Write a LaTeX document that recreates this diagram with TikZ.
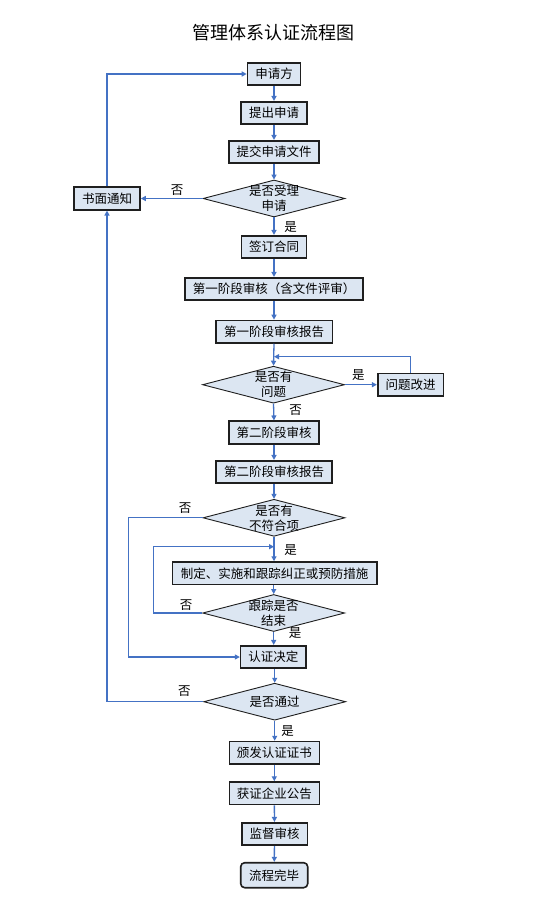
\documentclass[tikz,border=0pt]{standalone}
\usepackage{fontspec}
\setmainfont{Noto Sans CJK SC}
\usetikzlibrary{arrows.meta,shapes.geometric}
\definecolor{boxfill}{HTML}{DCE6F2}
\definecolor{conncol}{HTML}{4472C4}
\definecolor{boxline}{HTML}{1F1F1F}
\begin{document}
\begin{tikzpicture}[x=1pt,y=-1pt,
 stepbox/.style={draw=boxline,line width=1.6pt,fill=boxfill,inner sep=0pt,minimum height=22.5pt,font=\fontsize{12.5}{14}\selectfont},
 endbox/.style={stepbox,rounded corners=4pt},
 dia/.style={diamond,draw=boxline,line width=0.9pt,fill=boxfill,inner sep=0pt,minimum width=142pt,minimum height=37pt},
 dtext/.style={align=center,font=\fontsize{12.5}{15}\selectfont,inner sep=0pt},
 conn/.style={draw=conncol,line width=1.3pt,-{Triangle[length=5pt,width=5pt]}},
 lbl/.style={font=\fontsize{12.5}{14}\selectfont,inner sep=0pt}
]
\fill[white] (0,0) rectangle (550,915);
\useasboundingbox (0,0) rectangle (550,915);

\node[font=\fontsize{18}{20}\selectfont,inner sep=0pt] (title) at (273,33) {管理体系认证流程图};

\node[stepbox,minimum width=53pt] (sqf) at (274,74) {申请方};
\node[stepbox,minimum width=65.6pt] (tcsq) at (274,113) {提出申请};
\node[stepbox,minimum width=90pt] (tjwj) at (274,152) {提交申请文件};
\node[dia] (d1) at (274,198.5) {};
\node[dtext] (d1t) at (d1.center) {是否受理\\申请};
\node[stepbox,minimum width=66pt] (smtz) at (107,198.5) {书面通知};
\node[stepbox,minimum width=65pt] (qdht) at (274,247) {签订合同};
\node[stepbox,minimum width=178.3pt] (dyjd) at (274,289) {第一阶段审核（含文件评审）};
\node[stepbox,minimum width=116.6pt] (dybg) at (274,331.7) {第一阶段审核报告};
\node[dia] (d2) at (273.5,384.7) {};
\node[dtext] (d2t) at (d2.center) {是否有\\问题};
\node[stepbox,minimum width=65.6pt] (wtgj) at (410.5,384.7) {问题改进};
\node[stepbox,minimum width=90.3pt] (dejd) at (274,432.5) {第二阶段审核};
\node[stepbox,minimum width=115.7pt] (debg) at (274,472) {第二阶段审核报告};
\node[dia] (d3) at (274,517.8) {};
\node[dtext] (d3t) at (d3.center) {是否有\\不符合项};
\node[stepbox,minimum width=204.4pt] (zdss) at (274.5,573.3) {制定、实施和跟踪纠正或预防措施};
\node[dia] (d4) at (273.7,613) {};
\node[dtext] (d4t) at (d4.center) {跟踪是否\\结束};
\node[stepbox,minimum width=65.3pt] (rzjd) at (273.3,657) {认证决定};
\node[dia] (d5) at (274.7,701.7) {};
\node[dtext] (d5t) at (d5.center) {是否通过};
\node[stepbox,minimum width=90pt] (bfzs) at (274.3,752.8) {颁发认证证书};
\node[stepbox,minimum width=90pt] (hzgg) at (274.3,793.3) {获证企业公告};
\node[stepbox,minimum width=65.6pt] (jdsh) at (274.5,834) {监督审核};
\node[endbox,minimum width=67pt,minimum height=25pt] (lcwb) at (274.2,875.2) {流程完毕};

\coordinate (j1) at (274,356.7);
\coordinate (j2) at (274,546.7);

\draw[conn] (sqf) -- (tcsq);
\draw[conn] (tcsq) -- (tjwj);
\draw[conn] (tjwj) -- (d1);
\draw[conn] (d1.west) -- (smtz.east);
\draw[conn] (smtz.north) |- (sqf.west);
\draw[conn] (d1.south) -- (qdht);
\draw[conn] (qdht) -- (dyjd);
\draw[conn] (dyjd) -- (dybg);
\draw[conn] (dybg.south) -- (d2.north);
\draw[conn] (d2.east) -- (wtgj.west);
\draw[conn] (wtgj.north) |- (j1);
\draw[conn] (d2.south) -- (dejd.north);
\draw[conn] (dejd) -- (debg);
\draw[conn] (debg.south) -- (d3.north);
\draw[conn] (d3.south) -- (zdss.north -| d3.south);
\draw[conn] (d3.west) -- ++(-74,0) |- (rzjd.west);
\draw[conn] (zdss.south -| d4.north) -- (d4.north);
\draw[conn] (d4.west) -- ++(-49,0) |- (j2);
\draw[conn] (d4.south) -- (rzjd.north -| d4.south);
\draw[conn] (rzjd.south -| d5.north) -- (d5.north);
\draw[conn] (d5.west) -| (smtz.south);
\draw[conn] (d5.south) -- (bfzs.north -| d5.south);
\draw[conn] (bfzs) -- (hzgg);
\draw[conn] (hzgg) -- (jdsh);
\draw[conn] (jdsh) -- (lcwb);

\node[lbl] (l1) at (177,190) {否};
\node[lbl] (l2) at (290.7,226.7) {是};
\node[lbl] (l3) at (358.3,375) {是};
\node[lbl] (l4) at (295.5,410) {否};
\node[lbl] (l5) at (185,508.3) {否};
\node[lbl] (l6) at (290.7,550) {是};
\node[lbl] (l7) at (186,605) {否};
\node[lbl] (l8) at (295,633.3) {是};
\node[lbl] (l9) at (184.3,690.7) {否};
\node[lbl] (l10) at (287.7,730.7) {是};
\end{tikzpicture}
\end{document}
